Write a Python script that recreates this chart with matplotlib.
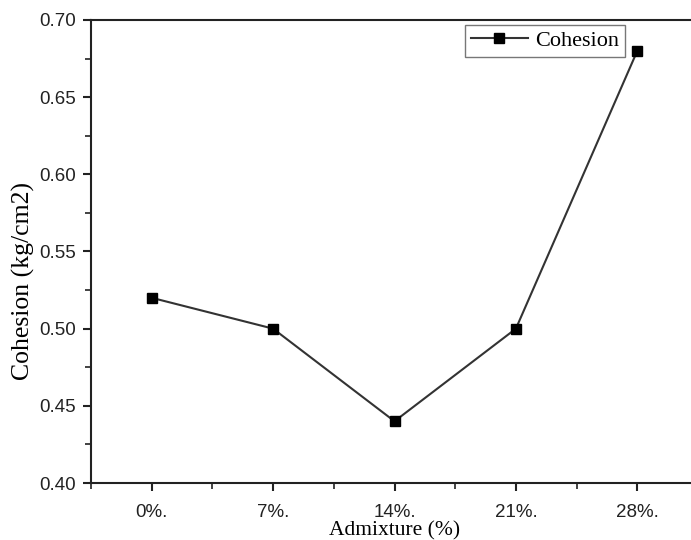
import matplotlib
matplotlib.use("Agg")
import matplotlib.pyplot as plt
from matplotlib.ticker import MultipleLocator

categories = ["0%.", "7%.", "14%.", "21%.", "28%."]
cohesion = [0.52, 0.50, 0.44, 0.50, 0.68]

fig = plt.figure(figsize=(6.91, 5.4), dpi=100)
ax = fig.add_axes([91/691, 57/540, (698-91)/691, (483-20)/540])
x = list(range(len(categories)))
ax.plot(x, cohesion, color="#333333", lw=1.5, marker="s", markersize=7,
        markerfacecolor="black", markeredgecolor="black", label="Cohesion")

ax.set_xlim(-0.5, 4.5)
ax.set_ylim(0.40, 0.70)
ax.set_xticks(x)
ax.set_xticklabels(categories)
ax.set_xticks([i + 0.5 for i in range(-1, 5)], minor=True)
ax.yaxis.set_major_locator(MultipleLocator(0.05))
ax.yaxis.set_minor_locator(MultipleLocator(0.025))
ax.yaxis.set_major_formatter(plt.FuncFormatter(lambda v, p: f"{v:.2f}"))

for lab in ax.get_xticklabels() + ax.get_yticklabels():
    lab.set_fontfamily("Liberation Sans")
    lab.set_fontsize(13.5)
    lab.set_color("#222222")

ax.tick_params(which="major", direction="out", length=6, width=1.5, color="#222222")
ax.tick_params(which="minor", direction="out", length=4, width=1.2, color="#222222")
ax.tick_params(axis="x", which="major", pad=9)
ax.tick_params(axis="y", which="major", pad=5)
for s in ax.spines.values():
    s.set_linewidth(1.5)
    s.set_color("#222222")

ax.set_xlabel("Admixture (%)", fontfamily="Liberation Serif", fontsize=15.5, labelpad=0)
ax.set_ylabel("Cohesion (kg/cm2)", fontfamily="Liberation Serif", fontsize=18.5)
ax.yaxis.set_label_coords((35 - 91) / 607, (483 - 281) / 463)

leg = ax.legend(loc="upper left", bbox_to_anchor=((465-91)/607, 1 - 5/463),
                prop={"family": "Liberation Serif", "size": 16}, frameon=True,
                fancybox=False, borderpad=0.25, handlelength=2.6, handletextpad=0.3,
                borderaxespad=0)
leg.get_frame().set_edgecolor("#555555")
leg.get_frame().set_linewidth(1.0)

fig.savefig("out.png", dpi=100)
